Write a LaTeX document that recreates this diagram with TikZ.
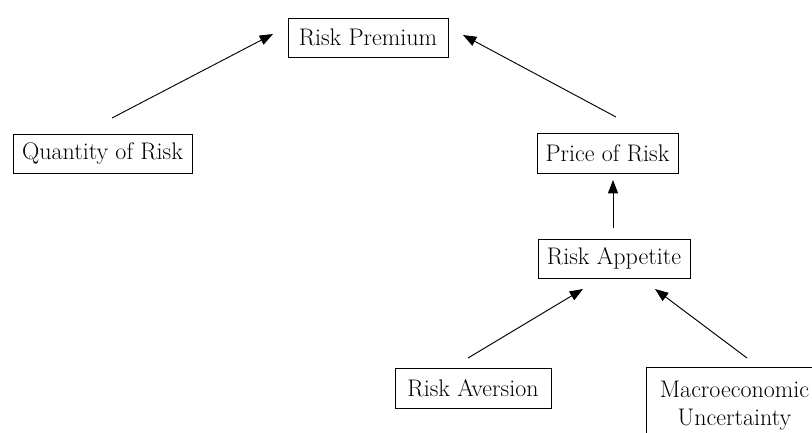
\documentclass[tikz,border=0pt]{standalone}
\usetikzlibrary{arrows.meta}
\begin{document}
\begin{tikzpicture}[x=0.75pt,y=-0.75pt,
  box/.style={draw, line width=0.7pt, inner sep=0pt, align=center,
    font=\fontsize{18}{21}\selectfont},
  link/.style={line width=0.7pt, -{Triangle[length=10pt,width=7.5pt]}}]
\useasboundingbox (0,0) rectangle (812,432);
\node[box, minimum width=120pt, minimum height=29.25pt] (rp) at (368,37.5) {Risk Premium};
\node[box, minimum width=134.25pt, minimum height=29.25pt] (q) at (102.5,154) {Quantity of Risk};
\node[box, minimum width=105.75pt, minimum height=30pt] (p) at (607.5,153) {Price of Risk};
\node[box, minimum width=114pt, minimum height=29.25pt] (a) at (614,258.5) {Risk Appetite};
\node[box, minimum width=117pt, minimum height=30pt] (ra) at (473,388) {Risk Aversion};
\node[box, minimum width=132.75pt, minimum height=58pt, anchor=north] (m) at (734.5,367) {Macroeconomic\\Uncertainty};
\coordinate (q1) at (112,118);
\coordinate (rp1) at (273,34);
\coordinate (p1) at (616,117);
\coordinate (rp2) at (463,35);
\coordinate (a1) at (613,228);
\coordinate (p2) at (613,180);
\coordinate (ra1) at (468,358);
\coordinate (a2) at (583,289);
\coordinate (m1) at (747,358);
\coordinate (a3) at (655,289);
\draw[link] (q1) -- (rp1);
\draw[link] (p1) -- (rp2);
\draw[link] (a1) -- (p2);
\draw[link] (ra1) -- (a2);
\draw[link] (m1) -- (a3);
\end{tikzpicture}
\end{document}
